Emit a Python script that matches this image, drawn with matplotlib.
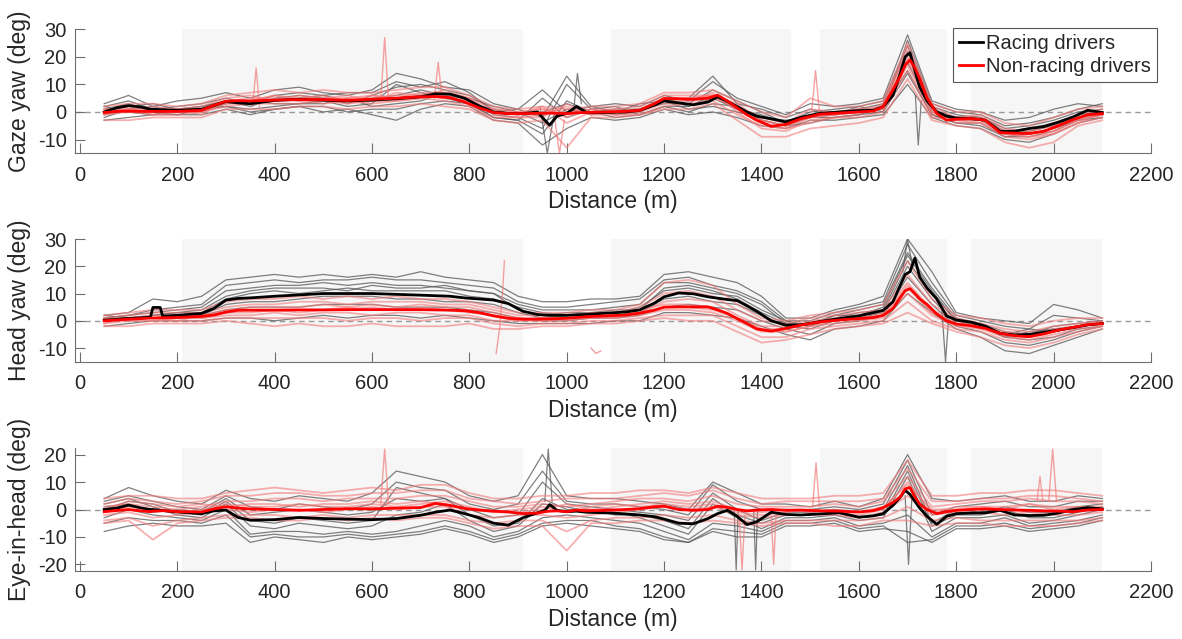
import matplotlib.pyplot as plt

plt.rcParams['font.family'] = ['Liberation Sans', 'DejaVu Sans']
plt.rcParams['axes.unicode_minus'] = False

# distance grid of the mean curves (m)
dist_mean = [50, 75, 100, 125, 145, 150, 165, 170, 200, 250, 275, 300, 325, 350,
             400, 450, 500, 550, 600, 650, 700, 730, 760, 790, 820, 850, 880, 910,
             940, 955, 965, 980, 1000, 1020, 1040, 1080, 1120, 1150, 1180, 1200,
             1230, 1260, 1290, 1310, 1330, 1350, 1370, 1390, 1420, 1450, 1480,
             1520, 1560, 1600, 1630, 1650, 1670, 1685, 1695, 1705, 1715, 1725,
             1740, 1760, 1780, 1800, 1830, 1860, 1890, 1920, 1950, 1980, 2010,
             2040, 2070, 2100]

gaze_racing = [0, 1.5, 2.3, 1.8, 1.0, 1.0, 0.8, 0.8, 0.6, 1.0, 2.3, 3.8, 3.3, 3.0,
               4.2, 4.6, 4.3, 4.0, 4.3, 4.8, 5.5, 6.6, 6.5, 5.0, 2.2, 0.0, -0.6, -0.6,
               0.0, -3.0, -4.8, -1.5, -0.5, 2.0, -0.2, -0.2, 0.0, 0.6, 2.5, 4.0,
               3.3, 2.6, 3.6, 5.5, 3.8, 2.0, 0.0, -1.5, -2.5, -3.6, -2.0,
               -0.5, 0.0, 0.5, 0.6, 2.0, 6.0, 14.0, 20.0, 21.5, 15.0, 9.0,
               4.0, 0.0, -1.5, -2.2, -2.4, -3.0, -7.0, -7.0, -6.0, -5.3, -3.7,
               -1.8, 0.6, -0.2]
gaze_nonracing = [-0.2, 0.2, 0.3, 0.2, 0.2, 0.2, 0.2, 0.2, 0.2, 0.6, 2.4, 3.9, 4.1, 4.0,
                  4.3, 4.5, 4.5, 4.2, 4.6, 5.0, 5.5, 5.6, 5.2, 3.6, 1.5, -0.2, -0.6, -0.6,
                  -0.5, -0.5, -0.4, -0.5, -0.6, -0.3, -0.2, 0.0, 0.2, 0.6, 3.0, 4.9,
                  4.8, 4.6, 5.0, 6.1, 4.0, 1.5, -1.0, -3.0, -5.2, -4.5, -2.5,
                  -0.8, -0.4, 0.0, 0.3, 2.0, 8.0, 13.0, 17.0, 18.9, 16.0, 12.0,
                  5.0, -0.5, -3.0, -2.6, -2.4, -3.0, -7.5, -7.7, -7.8, -7.0, -5.0,
                  -2.8, -1.0, -0.6]

head_racing = [0.2, 0.5, 0.9, 1.1, 1.3, 4.9, 4.9, 1.7, 2.0, 2.7, 4.5, 7.6, 8.2, 8.4,
               9.0, 9.5, 10.0, 10.0, 10.0, 9.7, 9.4, 9.2, 9.0, 8.4, 8.0, 7.6, 6.3, 3.5,
               2.3, 2.1, 2.0, 2.0, 2.0, 2.2, 2.3, 2.8, 3.2, 4.0, 6.5, 8.8,
               10.2, 9.9, 8.8, 8.3, 7.8, 7.4, 5.5, 3.5, 0.0, -1.6, -1.5,
               -0.3, 0.8, 1.8, 3.0, 3.8, 7.0, 13.0, 17.0, 18.0, 23.0, 16.0,
               12.0, 8.0, 1.8, 0.3, -0.5, -2.0, -4.6, -5.2, -5.0, -4.2, -3.4,
               -2.5, -1.5, -1.0]
head_nonracing = [0.0, 0.3, 0.6, 0.8, 1.0, 1.0, 1.1, 1.1, 1.2, 1.6, 2.1, 3.2, 3.9, 3.9,
                  3.9, 4.0, 4.0, 4.1, 4.1, 4.1, 4.1, 4.0, 3.9, 3.7, 3.0, 1.8, 0.9, 0.6,
                  0.6, 0.7, 0.7, 0.8, 0.9, 1.2, 1.5, 1.8, 2.1, 2.8, 3.9, 5.0,
                  5.1, 5.1, 5.1, 4.0, 2.7, 0.8, -1.0, -3.0, -3.8, -2.8, -1.6,
                  -0.4, 0.3, 0.8, 1.2, 2.0, 4.5, 8.5, 11.0, 11.8, 10.0, 8.0,
                  6.0, 2.5, 0.0, -1.2, -1.8, -2.8, -4.6, -5.5, -5.8, -4.8, -3.4,
                  -2.4, -1.4, -1.0]

eye_racing = [0.0, 0.5, 1.6, 0.6, 0.0, 0.0, -0.3, -0.4, -0.9, -1.5, -0.5, -0.2, -2.9, -3.9,
              -3.7, -2.9, -3.3, -3.5, -3.7, -3.3, -2.1, -1.0, -0.2, -1.5, -3.0, -5.0, -5.7, -3.0,
              -1.2, -0.3, 1.8, -0.3, -0.8, -0.6, -1.0, -1.2, -1.6, -2.0, -2.6, -3.5,
              -5.0, -5.2, -3.3, -1.5, -0.3, -2.5, -5.5, -4.5, -1.0, -1.8, -2.0,
              -1.6, -1.2, -2.8, -2.3, -1.5, 1.5, 4.5, 7.0, 5.5, 3.0, 0.5,
              -2.5, -5.4, -2.5, -1.5, -1.3, -1.2, -0.3, -2.0, -2.2, -2.1, -1.3,
              0.0, 0.7, 0.2]
eye_nonracing = [-0.8, -0.4, 0.0, -0.5, -0.8, -0.6, -0.5, -0.4, -0.8, -0.9, 0.2, 1.0, 0.5, 0.2,
                 0.0, -0.3, 0.0, 0.3, 0.2, 0.5, 0.7, 2.2, 1.5, 0.4, -0.2, -0.6, -0.9, -1.5,
                 -1.3, -0.8, -0.6, -0.5, -0.8, -0.2, -0.5, -0.3, 0.0, 0.3, 1.0, 1.2,
                 0.0, -0.3, 0.0, 1.2, 0.8, 0.0, -0.5, -0.2, 0.0, -0.3, -0.2,
                 -0.5, -0.6, -0.9, -0.4, 0.7, 2.5, 4.6, 7.5, 8.0, 4.6, 2.0,
                 0.0, -1.5, -0.8, -0.3, 0.0, 0.2, 0.0, -0.2, -0.3, -0.5, -0.6,
                 -0.8, -0.2, 0.0]

# individual drivers, sampled every 50 m from 50 to 2100 m
dist_trace = list(range(50, 2101, 50))

gaze_racing_drivers = [
    [3, 6, 2, 4, 5, 7, 5, 8, 9, 7, 6, 8, 14, 12, 9, 8, 3, 1, -2, 13, 2, 3, 2, 6, 4, 11, 5, 2, -1, 3, 2, 3, 5, 28, 4, 1, 0, -3, -2, 1, 3, 2],
    [-3, -2, -1, -1, -1, 1, -1, 1, 2, 0, 1, -1, -3, 1, 3, 2, -3, -4, -12, -6, -2, -3, -2, 1, -1, 0, -2, -5, -6, -3, -3, -2, -1, 10, -2, -5, -6, -10, -11, -8, -4, -2],
    [1, 3, 0, 1, 2, 4, 2, 5, 6, 5, 3, 6, 9, 10, 8, 6, 1, -1, 0, 3, 0, 1, 1, 3, 3, 8, 4, 0, -4, 0, 1, 2, 4, 24, 2, -1, -2, -6, -5, -3, 0, 1],
    [-1, 1, 2, 0, 0, 3, 4, 3, 3, 3, 5, 2, 3, 4, 7, 4, -1, -2, -6, 10, 1, -1, 0, 4, 1, 2, 0, -2, -3, -2, -1, 0, 1, 18, 0, -3, -3, -8, -7, -5, -2, -1],
    [2, 4, 1, 2, 3, 5, 3, 4, 5, 6, 4, 5, 6, 8, 6, 5, 2, 0, -4, 1, -1, 0, 1, 5, 2, 5, 1, -1, -4, -1, 0, 1, 3, 22, 1, -2, -2, -7, -6, -4, -1, 0],
    [0, 2, 3, 1, 1, 2, 1, 2, 3, 4, 2, 3, 10, 7, 5, 3, -2, -3, 5, -2, 1, 2, -1, 2, 0, 3, 2, -3, -5, -4, -2, -1, 2, 15, -1, -4, -4, -9, -8, -6, -3, -1],
    [2, 0, -1, 1, 2, 4, 3, 6, 7, 6, 7, 7, 11, 9, 11, 7, 0, 1, 8, 0, 2, 0, 3, 4, 5, 13, 3, 1, -2, 1, -1, 2, 0, 26, 3, 0, -1, -5, -4, -2, 1, 3],
    [-2, 1, 0, -1, 1, 2, 0, 1, 2, 2, 0, 1, 1, 3, 4, 3, -2, -3, -8, 4, 0, -2, -1, 2, 2, 6, 1, -3, -5, -2, -2, -1, 0, 14, -1, -4, -5, -9, -9, -7, -3, -2],
]
gaze_nonracing_drivers = [
    [2, 3, 3, 2, 3, 6, 7, 8, 7, 8, 7, 7, 8, 9, 9, 6, 2, 1, 2, 1, 2, 2, 3, 7, 7, 8, 4, 0, -2, 5, 2, 2, 4, 25, 3, 0, 0, -4, -5, -2, 1, 2],
    [-3, -3, -2, -2, -2, 1, 1, 1, 2, 2, 1, 2, 2, 3, 2, 1, -3, -4, -3, -13, -2, -2, -1, 1, 1, 3, -3, -9, -9, -6, -5, -4, -2, 12, -3, -5, -6, -11, -13, -11, -5, -3],
    [0, 1, 0, 1, 1, 4, 5, 5, 4, 5, 5, 5, 6, 6, 5, 4, 0, -1, 0, -1, 0, 0, 1, 4, 5, 6, 1, -4, -6, -2, -1, 0, 2, 19, 0, -3, -3, -8, -9, -7, -3, -1],
    [1, 0, 1, 0, 0, 2, 3, 4, 5, 3, 4, 3, 4, 5, 6, 3, 1, 0, 1, 0, 1, -1, 0, 5, 4, 5, 2, -3, -5, -1, 0, 1, 1, 17, -1, -2, -2, -7, -8, -6, -2, -1],
    [-1, 2, -1, 0, 1, 3, 4, 6, 5, 6, 3, 6, 5, 7, 7, 5, -1, -2, -1, 2, -1, 1, 0, 3, 4, 7, 0, -6, -7, -3, -2, -1, 3, 22, 1, -4, -4, -9, -10, -8, -4, 0],
    [1, 1, 2, 1, 2, 5, 6, 4, 6, 5, 6, 4, 7, 6, 8, 5, 1, 0, 1, -2, 1, 1, 2, 6, 6, 6, 2, -2, -4, 1, 0, 1, 2, 20, 2, -2, -1, -6, -7, -5, -1, 1],
    [-1, 0, -1, -1, 0, 3, 3, 3, 3, 4, 3, 4, 4, 5, 4, 2, -2, -2, -2, 3, -1, -1, -1, 2, 3, 4, -1, -5, -6, -4, -2, -2, 0, 15, -2, -3, -4, -8, -9, -8, -4, -2],
    [0, 1, 1, 1, -1, 4, 4, 6, 4, 4, 5, 6, 5, 6, 6, 4, 0, -1, 2, -4, 0, 0, 1, 5, 5, 6, 3, -3, -5, -2, -1, 0, 1, 24, 0, -3, -3, -7, -8, -7, -3, -1],
]

head_racing_drivers = [
    [2, 3, 8, 7, 9, 15, 16, 17, 16, 17, 16, 17, 16, 18, 16, 15, 14, 9, 7, 7, 8, 8, 9, 17, 18, 16, 14, 9, 1, 1, 4, 6, 9, 30, 18, 3, 1, 0, -1, 6, 4, 1],
    [-2, -1, 0, 0, 0, 1, 1, 0, 1, 2, 1, 2, 2, 1, 2, 1, 0, -1, -1, -1, -1, 0, 0, 3, 3, 2, 1, -2, -5, -7, -3, -2, 0, 10, 3, -3, -6, -11, -12, -9, -6, -3],
    [1, 2, 3, 4, 5, 11, 12, 13, 13, 14, 13, 14, 13, 13, 12, 11, 10, 6, 4, 4, 4, 5, 6, 14, 14, 12, 10, 6, -1, -1, 2, 4, 6, 25, 12, 1, -1, -4, -5, -2, -1, 0],
    [0, 1, 1, 2, 2, 6, 7, 7, 8, 9, 9, 9, 8, 8, 7, 7, 6, 3, 1, 1, 2, 2, 3, 8, 9, 7, 6, 2, -2, -3, 0, 1, 3, 20, 8, -1, -2, -6, -7, -6, -3, -2],
    [1, 0, 2, 3, 3, 8, 10, 11, 10, 11, 12, 11, 11, 11, 11, 9, 8, 5, 3, 2, 3, 3, 5, 11, 12, 10, 9, 4, 0, -2, 1, 3, 4, 22, 10, 0, -1, -5, -3, -4, -2, -1],
    [1, 2, 4, 5, 6, 13, 14, 15, 14, 15, 15, 16, 15, 15, 14, 13, 12, 7, 5, 5, 6, 7, 8, 15, 16, 13, 11, 7, 0, 0, 3, 5, 7, 28, 14, 2, 0, -2, -3, 2, 1, 0],
    [0, 1, 1, 1, 2, 4, 5, 5, 5, 6, 6, 6, 5, 5, 5, 4, 3, 1, 0, 0, 1, 1, 2, 5, 6, 5, 4, 0, -3, -5, -1, 0, 2, 16, 6, -2, -4, -8, -9, -7, -4, -2],
    [2, 1, 2, 3, 4, 9, 11, 12, 12, 12, 11, 13, 12, 12, 13, 11, 10, 4, 2, 3, 3, 4, 4, 12, 13, 11, 8, 3, -1, -2, 2, 2, 5, 24, 11, 0, -2, -6, -4, -3, -2, -1],
]
head_nonracing_drivers = [
    [2, 3, 4, 4, 4, 7, 8, 8, 9, 8, 9, 8, 9, 8, 8, 7, 5, 3, 3, 3, 4, 4, 6, 14, 15, 13, 6, 1, 0, 2, 3, 4, 6, 22, 8, 2, 1, -1, -2, 0, 1, 1],
    [-2, -2, -1, -1, -1, 0, -1, -2, -1, -2, -2, -1, -2, -2, -2, -1, -3, -3, -2, -2, -1, -1, 0, 1, 0, 0, -4, -8, -7, -5, -3, -2, -1, 3, -1, -4, -6, -9, -10, -8, -5, -3],
    [0, 1, 2, 2, 2, 4, 5, 5, 5, 6, 5, 6, 5, 6, 5, 5, 3, 1, 1, 1, 2, 2, 3, 7, 8, 7, 2, -2, -2, 0, 1, 2, 3, 14, 4, 0, -2, -4, -5, -3, -2, -1],
    [1, 0, 0, 1, 1, 2, 2, 3, 2, 3, 3, 2, 3, 3, 2, 2, 0, 0, 0, 0, 1, 1, 2, 4, 4, 3, 0, -4, -4, -2, -1, 0, 1, 10, 2, -2, -3, -6, -7, -5, -3, -2],
    [-1, 1, 1, 0, 2, 3, 4, 4, 3, 4, 4, 5, 4, 4, 4, 3, 2, 0, 1, 2, 2, 1, 4, 6, 6, 5, 1, -3, -3, -1, 0, 1, 2, 12, 3, -1, -2, -5, -6, -4, -2, -1],
    [1, 2, 3, 3, 3, 5, 6, 6, 7, 7, 6, 7, 7, 7, 6, 6, 4, 2, 2, 2, 3, 3, 5, 10, 11, 9, 4, 0, -1, 1, 2, 3, 4, 17, 6, 1, -1, -3, -4, -2, -1, 0],
    [-1, 0, 0, 0, 0, 1, 1, 1, 1, 1, 0, 1, 1, 0, 1, 1, -1, -2, -1, -1, 0, 0, 1, 2, 2, 2, -2, -6, -6, -3, -2, -1, 0, 7, 0, -3, -4, -7, -8, -6, -4, -2],
    [0, 1, 1, 2, 1, 3, 3, 4, 4, 4, 5, 4, 4, 5, 4, 4, 2, 1, 0, 1, 1, 2, 3, 5, 5, 4, 1, -3, -4, -2, 0, 1, 2, 13, 3, -1, -2, -5, -6, -4, -2, -1],
]

eye_racing_drivers = [
    [4, 8, 5, 3, 2, 7, 4, 3, 5, 4, 3, 6, 14, 12, 10, 5, 3, 5, 20, 5, 4, 4, 3, 2, 0, 10, 6, 2, 2, 1, 3, 1, 4, 20, 4, 3, 4, 5, 3, 3, 5, 4],
    [-8, -6, -5, -6, -6, -5, -12, -10, -11, -12, -10, -11, -10, -9, -7, -9, -12, -10, -6, -5, -6, -7, -8, -11, -12, -8, -10, -10, -6, -6, -5, -8, -7, -8, -12, -7, -7, -6, -8, -7, -6, -4],
    [2, 4, 1, -2, -3, 2, -6, -7, -5, -6, -7, -6, -2, -1, 2, -4, -8, -6, 2, 1, -1, -1, -3, -6, -9, 2, -3, -7, -3, -3, -2, -4, -3, 12, -8, -3, -3, -2, -5, -4, -2, 0],
    [-3, 0, -2, -3, -4, 0, -9, -8, -8, -9, -8, -9, -8, -6, -4, -6, -10, -8, -3, -2, -3, -4, -5, -8, -11, -5, -6, -8, -4, -4, -3, -6, -5, -2, -10, -5, -5, -3, -6, -5, -4, -2],
    [1, 2, -1, 0, -1, 4, -2, -1, 0, -1, -2, -1, 4, 3, 4, 0, -3, -2, 10, 2, 1, 0, -1, -2, -4, 6, 0, -4, -1, -1, 0, -1, 0, 16, -5, 0, -1, 1, -1, -1, 1, 2],
    [0, 3, 2, -1, -2, 3, -4, -5, -3, -4, -5, -4, 8, 6, 4, -2, -6, -5, 4, 0, 0, -2, -2, -4, -7, 4, -2, -5, -2, -2, -1, -3, -2, 14, -6, -2, -2, 0, -3, -3, -1, 1],
    [-5, -3, -4, -4, -5, -2, -10, -9, -10, -10, -9, -10, -9, -8, -6, -8, -11, -9, -5, -4, -4, -6, -7, -10, -12, -7, -8, -9, -5, -5, -4, -7, -6, -12, -11, -6, -6, -5, -7, -6, -5, -3],
    [3, 5, 3, 1, 0, 5, 1, 0, 2, 1, 0, 2, 10, 8, 7, 2, 0, 2, 14, 3, 2, 2, 1, 0, -2, 9, 3, 0, 0, 0, 1, 0, 2, 18, -2, 1, 2, 3, 1, 1, 3, 3],
]
eye_nonracing_drivers = [
    [4, 5, 5, 4, 4, 6, 7, 8, 7, 6, 7, 8, 7, 9, 9, 6, 4, 4, 5, 5, 6, 6, 7, 7, 6, 8, 6, 4, 4, 4, 5, 5, 6, 18, 5, 5, 6, 6, 7, 7, 6, 5],
    [-5, -4, -11, -5, -4, -3, -3, -4, -4, -3, -4, -3, -4, -3, -3, -5, -7, -6, -6, -15, -5, -5, -4, -4, -5, -4, -5, -6, -5, -5, -6, -6, -4, -4, -6, -5, -5, -6, -6, -6, -5, -4],
    [1, 2, 1, 0, 1, 3, 3, 4, 4, 3, 4, 4, 4, 5, 5, 3, 1, 1, 2, 1, 2, 3, 4, 4, 3, 5, 2, 1, 1, 1, 2, 1, 3, 12, 1, 2, 3, 3, 4, 3, 3, 2],
    [-2, -1, -3, -2, -1, 0, -1, 0, 0, -1, 0, 1, 0, 1, 1, -2, -3, -2, -2, -3, -2, -1, 0, 1, 0, 1, -2, -3, -2, -2, -2, -3, -1, 5, -2, -1, -1, -2, -1, -2, -2, -1],
    [0, 3, 2, 1, 2, 1, 2, 2, 1, 2, 2, 3, 2, 3, 2, 0, -1, -1, 0, 2, 0, 1, 2, 3, 2, 3, 0, -1, 0, -1, 0, -1, 1, 9, 0, 0, 1, 0, 2, 1, 1, 0],
    [2, 4, 3, 2, 3, 5, 5, 6, 6, 5, 5, 6, 6, 7, 7, 4, 3, 2, 3, 4, 4, 4, 5, 6, 5, 7, 4, 2, 3, 3, 3, 3, 4, 15, 3, 3, 4, 4, 5, 5, 4, 3],
    [-4, -3, -6, -4, -3, -2, -2, -2, -3, -2, -3, -2, -2, -2, -2, -4, -5, -4, -4, -8, -4, -3, -3, -2, -3, -2, -4, -5, -4, -4, -4, -4, -3, 1, -4, -3, -4, -4, -4, -4, -4, -3],
    [-1, 1, 0, -1, 0, 2, 1, 1, 2, 1, 1, 2, 1, 2, 3, 1, -1, 0, 1, -1, 1, 2, 1, 2, 1, 2, -1, -2, -1, 0, -1, -2, 0, 10, -1, 1, 1, 1, 2, 0, 1, 1],
]

# short glitches / spikes seen in single drivers: (x list, y list)
gaze_spikes_red = [([355, 362, 369], [2, 16, 2]), ([618, 626, 634], [4, 27, 4]),
                   ([728, 736, 744], [5, 18, 5]), ([1503, 1511, 1519], [0, 15, 0]),
                   ([975, 985, 995], [-2, -15, -3])]
gaze_spikes_gray = [([1716, 1722, 1728], [6, -12, 4]), ([945, 960, 975], [2, -15, 0]),
                    ([1015, 1022, 1030], [2, 14, 3])]
head_spikes_red = [([855, 862, 868, 872], [-12, -3, 10, 22]), ([1050, 1060, 1070], [-10, -12, -11])]
head_spikes_gray = [([1690, 1700, 1710], [18, 30, 20]), ([1770, 1778, 1784], [5, -15, 0])]
eye_spikes_red = [([618, 626, 634], [2, 22, 2]), ([1966, 1972, 1978], [3, 12, 3]),
                  ([1990, 1998, 2006], [3, 22, 3]), ([1354, 1360, 1366], [-2, -22, -2]),
                  ([1420, 1425, 1430], [-2, -20, -2]), ([1505, 1512, 1519], [1, 17, 1])]
eye_spikes_gray = [([1344, 1348, 1352], [0, -22, 0]), ([1384, 1388, 1392], [0, -22, 0]),
                   ([955, 962, 970], [3, 22, 3]), ([1695, 1702, 1709], [5, -20, 5])]

shade_regions = [(210, 910), (1090, 1460), (1520, 1780), (1830, 2100)]

panels = [
    dict(label='Gaze yaw (deg)', race=gaze_racing, nonrace=gaze_nonracing,
         race_drv=gaze_racing_drivers, nonrace_drv=gaze_nonracing_drivers,
         sp_gray=gaze_spikes_gray, sp_red=gaze_spikes_red,
         ylim=(-15, 30), yticks=[-10, 0, 10, 20, 30], top=29.3, bottom=153.3),
    dict(label='Head yaw (deg)', race=head_racing, nonrace=head_nonracing,
         race_drv=head_racing_drivers, nonrace_drv=head_nonracing_drivers,
         sp_gray=head_spikes_gray, sp_red=head_spikes_red,
         ylim=(-15, 30), yticks=[-10, 0, 10, 20, 30], top=239.0, bottom=361.7),
    dict(label='Eye-in-head (deg)', race=eye_racing, nonrace=eye_nonracing,
         race_drv=eye_racing_drivers, nonrace_drv=eye_nonracing_drivers,
         sp_gray=eye_spikes_gray, sp_red=eye_spikes_red,
         ylim=(-22.3, 22.3), yticks=[-20, -10, 0, 10, 20], top=448.3, bottom=570.7),
]

W, H = 1182, 639
fig = plt.figure(figsize=(W / 100, H / 100), dpi=100)

gray_c = '#555555'
pink_c = '#f27a7a'
axis_c = '#6e6e6e'
text_c = '#262626'

for i, p in enumerate(panels):
    ax = fig.add_axes([75 / W, 1 - p['bottom'] / H, 1076 / W, (p['bottom'] - p['top']) / H])
    for a, b in shade_regions:
        ax.axvspan(a, b, color='#f6f6f6', lw=0, zorder=0)
    ax.axhline(0, color='#9a9a9a', lw=1, ls=(0, (4, 3)), zorder=1)

    for tr in p['race_drv']:
        ax.plot(dist_trace, tr, color=gray_c, lw=0.9, alpha=0.75, zorder=2)
    for xs, ys in p['sp_gray']:
        ax.plot(xs, ys, color=gray_c, lw=0.9, alpha=0.75, zorder=2)
    for tr in p['nonrace_drv']:
        ax.plot(dist_trace, tr, color=pink_c, lw=1.3, alpha=0.6, zorder=3)
    for xs, ys in p['sp_red']:
        ax.plot(xs, ys, color=pink_c, lw=1.0, alpha=0.7, zorder=3)

    h1, = ax.plot(dist_mean, p['race'], color='black', lw=2, zorder=5, label='Racing drivers')
    h2, = ax.plot(dist_mean, p['nonrace'], color='#ff0000', lw=2, zorder=6, label='Non-racing drivers')

    ax.set_xlim(-10, 2200)
    ax.set_ylim(*p['ylim'])
    ax.set_xticks(range(0, 2201, 200))
    ax.set_yticks(p['yticks'])
    for s in ['top', 'right']:
        ax.spines[s].set_visible(False)
    for s in ['left', 'bottom']:
        ax.spines[s].set_color(axis_c)
        ax.spines[s].set_linewidth(0.8)
    ax.tick_params(direction='in', length=7, width=0.8, color=axis_c,
                   labelsize=14.5, labelcolor=text_c, pad=6)
    ax.tick_params(axis='x', pad=9)
    ax.set_xlabel('Distance (m)', fontsize=16.5, color=text_c, labelpad=4)
    ax.set_ylabel(p['label'], fontsize=16.5, color=text_c, labelpad=5)

    if i == 0:
        leg = ax.legend(handles=[h1, h2], loc='upper right',
                        bbox_to_anchor=(1157 / W, 1 - 28 / H), bbox_transform=fig.transFigure,
                        fontsize=14.5, frameon=True, fancybox=False, framealpha=1,
                        handlelength=1.2, handletextpad=0.15, borderpad=0.3,
                        labelspacing=0.2, borderaxespad=0)
        leg.get_frame().set_edgecolor('#555555')
        leg.get_frame().set_linewidth(0.8)
        for t in leg.get_texts():
            t.set_color(text_c)

fig.savefig('out.png', dpi=100)
